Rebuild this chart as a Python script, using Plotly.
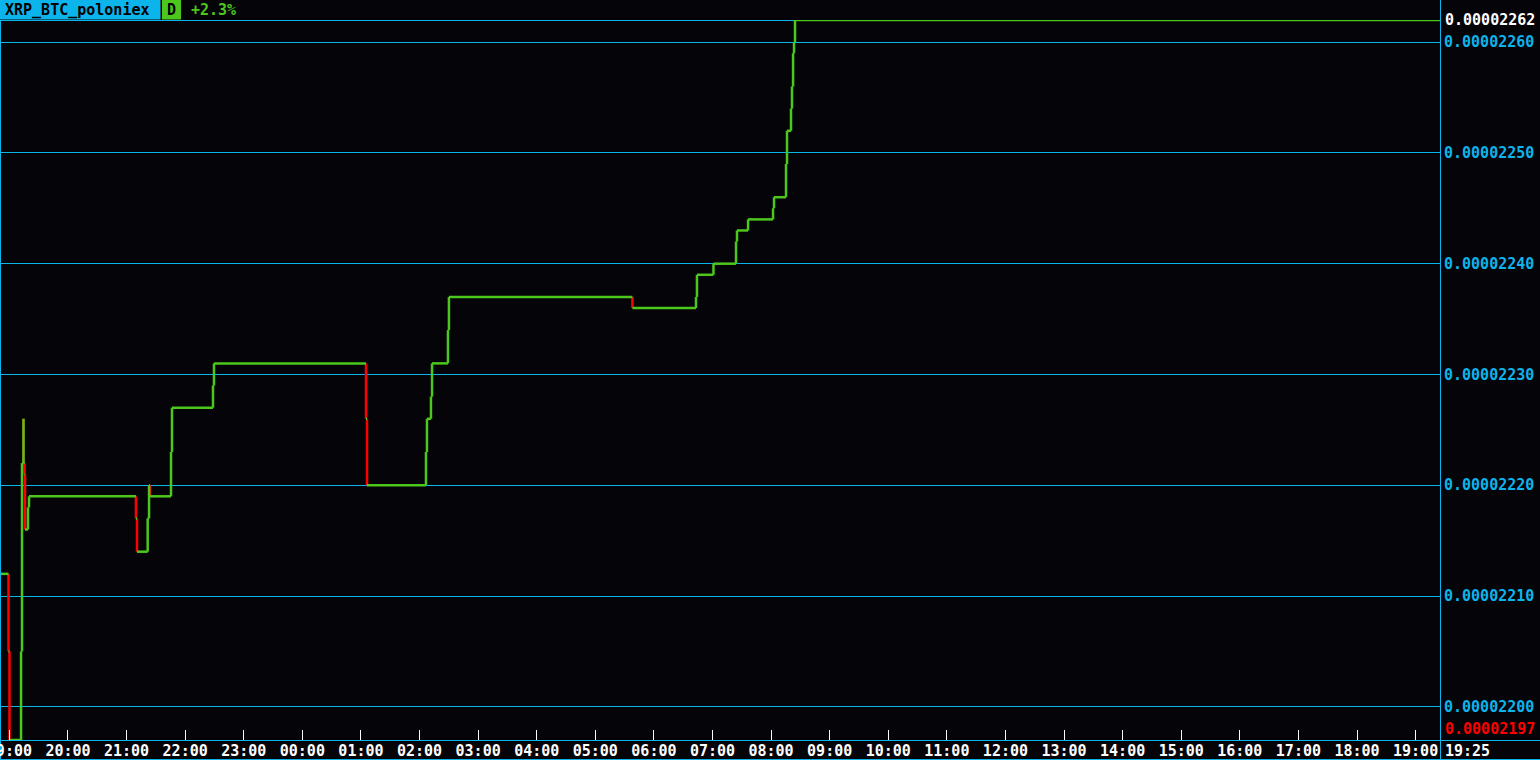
import plotly.graph_objects as go

# ---- data ----
symbol = "XRP_BTC_poloniex"
period = "D"
scale = 1e-8
range_start = "2018-01-14 18:51:24"
range_end = "2018-01-15 19:25:00"
times = [
    "2018-01-14 18:45:00", "2018-01-14 18:59:05", "2018-01-14 19:00:05",
    "2018-01-14 19:11:55", "2018-01-14 19:12:55", "2018-01-14 19:14:25",
    "2018-01-14 19:14:25", "2018-01-14 19:15:30", "2018-01-14 19:16:00",
    "2018-01-14 19:19:00", "2018-01-14 19:20:05", "2018-01-14 21:09:35",
    "2018-01-14 21:10:40", "2018-01-14 21:21:35", "2018-01-14 21:23:00",
    "2018-01-14 21:24:00", "2018-01-14 21:45:30", "2018-01-14 21:46:30",
    "2018-01-14 22:28:30", "2018-01-14 22:29:30", "2018-01-15 01:05:12",
    "2018-01-15 01:06:12", "2018-01-15 02:06:36", "2018-01-15 02:07:36",
    "2018-01-15 02:11:42", "2018-01-15 02:12:48", "2018-01-15 02:29:06",
    "2018-01-15 02:30:06", "2018-01-15 05:38:00", "2018-01-15 06:43:06",
    "2018-01-15 06:44:06", "2018-01-15 07:01:00", "2018-01-15 07:24:06",
    "2018-01-15 07:25:06", "2018-01-15 07:36:24", "2018-01-15 08:02:00",
    "2018-01-15 08:03:00", "2018-01-15 08:15:18", "2018-01-15 08:16:18",
    "2018-01-15 08:20:24", "2018-01-15 08:21:24", "2018-01-15 08:22:30",
    "2018-01-15 08:23:30", "2018-01-15 08:24:30",
]
prices = [
    2212, 2205, 2197,
    2205, 2222, 2226,
    2222, 2221, 2216,
    2218, 2219, 2217,
    2214, 2217, 2220,
    2219, 2223, 2227,
    2229, 2231, 2226,
    2220, 2223, 2226,
    2228, 2231, 2234,
    2237, 2236, 2237,
    2239, 2240, 2242,
    2243, 2244, 2245,
    2246, 2249, 2252,
    2254, 2256, 2259,
    2260, 2262,
]
y_low, y_high = 2197, 2262

# ---- style ----
BG = "#050409"
CYAN = "#0cb4ec"
GREEN = "#4cc81c"
RED = "#ff0000"
WHITE = "#ffffff"
FONT = "DejaVu Sans Mono"
FS = 15
FW = "bold"
LW = 2.5

vals = [p * scale for p in prices]

# green: horizontal holds + up-ticks ; red: down-ticks
gx, gy, rx, ry = [], [], [], []
for i in range(len(times)):
    t_next = times[i + 1] if i + 1 < len(times) else range_end
    gx += [times[i], t_next, None]
    gy += [vals[i], vals[i], None]
    if i + 1 < len(times):
        tx, ty = (gx, gy) if prices[i + 1] >= prices[i] else (rx, ry)
        tx += [t_next, t_next, None]
        ty += [vals[i], vals[i + 1], None]

fig = go.Figure()
fig.add_trace(go.Scatter(x=rx, y=ry, mode="lines", line=dict(color=RED, width=LW),
                         hoverinfo="skip", showlegend=False, connectgaps=False))
fig.add_trace(go.Scatter(x=gx, y=gy, mode="lines", line=dict(color=GREEN, width=LW),
                         hoverinfo="skip", showlegend=False, connectgaps=False))

W, H = 1540, 760
ml, mr, mt, mb = 1, 100, 20, 20
pw, ph = W - ml - mr, H - mt - mb


def px(x):
    return (x - ml) / pw


def py(y):
    return (H - mb - y) / ph


shapes = []
def line(x0, y0, x1, y1):
    shapes.append(dict(type="line", xref="paper", yref="paper", x0=px(x0), y0=py(y0), x1=px(x1), y1=py(y1),
                       line=dict(color=CYAN, width=1), layer="below"))

line(0.5, 20.5, 1440.5, 20.5)          # top frame
line(0, 740.5, 1540, 740.5)            # bottom axis line
line(0, 759.5, 1540, 759.5)            # bottom edge
line(0.5, 20, 0.5, 760)                # left edge
line(1440.5, 0, 1440.5, 760)           # right axis line
# header boxes
shapes.append(dict(type="rect", xref="paper", yref="paper", x0=px(0), x1=px(160.5), y0=py(19.5), y1=py(0),
                   fillcolor=CYAN, line=dict(width=0), layer="above"))
shapes.append(dict(type="rect", xref="paper", yref="paper", x0=px(162), x1=px(181), y0=py(19.5), y1=py(0),
                   fillcolor=GREEN, line=dict(width=0), layer="above"))

change = (prices[-1] - prices[0]) / prices[0] * 100

def fnt(color):
    return dict(family=FONT, size=FS, color=color, weight=FW)

annotations = [
    dict(xref="paper", yref="paper", x=px(3), y=py(10), xanchor="left", yanchor="middle",
         text=symbol, showarrow=False, font=fnt("#000000")),
    dict(xref="paper", yref="paper", x=px(171.5), y=py(10), xanchor="center", yanchor="middle",
         text=period, showarrow=False, font=fnt("#000000")),
    dict(xref="paper", yref="paper", x=px(189), y=py(10), xanchor="left", yanchor="middle",
         text=f"{change:+.1f}%", showarrow=False, font=fnt(GREEN)),
    dict(xref="paper", yref="y", x=1, y=vals[-1], xanchor="left", yanchor="middle", xshift=3,
         text=f"{vals[-1]:.8f}", showarrow=False, font=fnt(WHITE)),
    dict(xref="paper", yref="y", x=1, y=min(prices) * scale, xanchor="left", yanchor="bottom", xshift=3,
         text=f"{min(prices) * scale:.8f}", showarrow=False, font=fnt(RED)),
    dict(xref="paper", yref="paper", x=1, y=0, xanchor="left", yanchor="top", xshift=3, yshift=0,
         text=range_end[11:16], showarrow=False, font=fnt(WHITE)),
]

fig.update_layout(
    width=W, height=H,
    margin=dict(l=ml, r=mr, t=mt, b=mb, pad=0, autoexpand=False),
    paper_bgcolor=BG, plot_bgcolor=BG,
    shapes=shapes, annotations=annotations,
    xaxis=dict(type="date", range=[range_start, range_end], tickformat="%H:%M",
               tick0="2018-01-14 19:00:00", dtick=3600000, automargin=False,
               showgrid=False, zeroline=False, showline=False,
               ticks="inside", ticklen=10, tickwidth=1, tickcolor=WHITE,
               tickfont=fnt(WHITE),
               ticklabeloverflow="allow", fixedrange=True),
    yaxis=dict(range=[y_low * scale, y_high * scale], side="right", automargin=False,
               tick0=0, dtick=10 * scale, tickformat=".8f", ticklabelstandoff=3,
               showgrid=True, gridcolor=CYAN, gridwidth=1, zeroline=False, showline=False,
               ticks="", tickfont=fnt(CYAN), fixedrange=True),
    font=dict(family=FONT, size=FS),
)

fig.write_html("out.html", config={"displayModeBar": False},
               post_script="document.body.style.margin='0';document.body.style.overflow='hidden';")
